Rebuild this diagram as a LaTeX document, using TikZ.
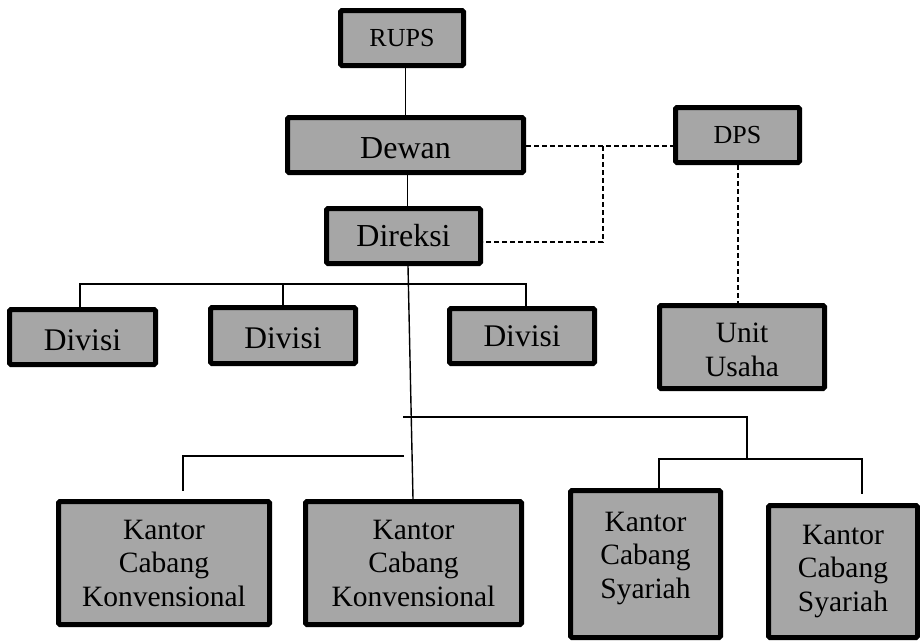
\documentclass[tikz,border=0pt]{standalone}
\usepackage{fontspec}
\setmainfont{Liberation Serif}
\definecolor{boxgray}{RGB}{166,166,166}
\newcommand{\shiftby}[2]{\raisebox{#1}[\height][\depth]{#2}}
\begin{document}
\begin{tikzpicture}[x=1pt,y=-1pt,
  box/.style={draw=black, line width=5pt, fill=boxgray, rounded corners=1.5pt, inner sep=0pt, align=center, anchor=center},
  smallf/.style={font=\fontsize{26}{30}\selectfont},
  bigf/.style={font=\fontsize{32}{38}\selectfont},
  divf/.style={font=\fontsize{31.5}{36}\selectfont},
  kf/.style={font=\fontsize{29.5}{33.5}\selectfont},
  conn/.style={line width=1.4pt, draw=black},
  dconn/.style={line width=1.4pt, draw=black, dash pattern=on 5pt off 3pt}
]
\useasboundingbox (0,0) rectangle (920,641);
% boxes
\node[box, smallf, minimum width=123pt, minimum height=55pt] (rups) at (402,38) {RUPS};
\node[box, bigf, minimum width=236pt, minimum height=55pt] (dewan) at (405.5,145) {\shiftby{-3pt}{Dewan}};
\node[box, bigf, minimum width=154pt, minimum height=55pt] (direksi) at (403.5,236) {Direksi};
\node[box, smallf, minimum width=124pt, minimum height=55pt] (dps) at (737.5,135) {DPS};
\node[box, divf, minimum width=146pt, minimum height=55pt] (divA) at (82.5,337) {\shiftby{-3pt}{Divisi}};
\node[box, divf, minimum width=145pt, minimum height=56pt] (divB) at (283,335.5) {\shiftby{-2.5pt}{Divisi}};
\node[box, divf, minimum width=145pt, minimum height=55pt] (divC) at (522,336) {Divisi};
\node[box, kf, minimum width=165pt, minimum height=83pt] (unit) at (742,347) {\shiftby{-6pt}{\begin{tabular}{@{}c@{}}Unit\\Usaha\end{tabular}}};
\node[box, kf, minimum width=211pt, minimum height=123pt] (kanA) at (164,563) {Kantor\\Cabang\\Konvensional};
\node[box, kf, minimum width=216pt, minimum height=123pt] (kanB) at (413.5,563) {Kantor\\Cabang\\Konvensional};
\node[box, kf, minimum width=150pt, minimum height=147pt] (syA) at (645.5,564) {\shiftby{6pt}{\begin{tabular}{@{}c@{}}Kantor\\Cabang\\Syariah\end{tabular}}};
\node[box, kf, minimum width=149pt, minimum height=132pt] (syB) at (843,571.5) {Kantor\\Cabang\\Syariah};
% solid connectors
\draw[conn] (dewan.north) -- (dewan.north |- rups.south);
\draw[conn] ([xshift=2pt]dewan.south) -- ([xshift=2pt]dewan.south |- direksi.north);
\draw[conn] ([xshift=4.5pt]direksi.south) -- ([xshift=-0.5pt]kanB.north);
\coordinate (db) at (0,284);
\draw[conn] ([xshift=-2.5pt]divA.north) -- ([xshift=-2.5pt]divA.north |- db) -- ([xshift=4pt]divC.north |- db) -- ([xshift=4pt]divC.north);
\draw[conn] (divB.north) -- (divB.north |- db);
\coordinate (kt1) at (403,417);
\coordinate (kt2) at (747,417);
\coordinate (kt3) at (747,459);
\coordinate (ks2) at (862,459);
\coordinate (ks2e) at (862,494);
\draw[conn] (kt1) -- (kt2) -- (kt3);
\draw[conn] ([xshift=13.5pt]syA.north) |- (ks2) -- (ks2e);
\coordinate (kk1) at (404,456);
\coordinate (kk2) at (183,491);
\draw[conn] (kk1) -| (kk2);
% dashed connectors
\coordinate (dj) at (603,146);
\coordinate (dk) at (603,242);
\draw[dconn] (dewan.east |- dj) -- (dps.west |- dj);
\draw[dconn] (dj) -- (dk) -- (direksi.east |- dk);
\draw[dconn] ([xshift=0.5pt]dps.south) -- ([xshift=0.5pt]dps.south |- unit.north);
\end{tikzpicture}
\end{document}
